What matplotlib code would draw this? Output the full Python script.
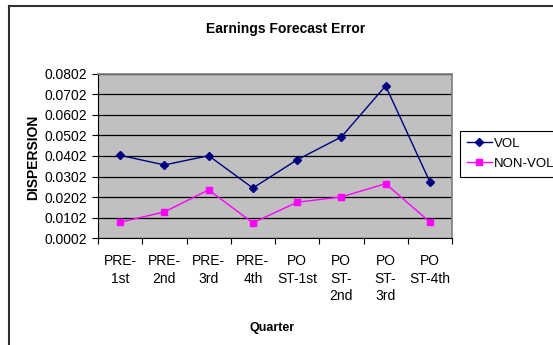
import numpy as np
import matplotlib
matplotlib.use('Agg')
import matplotlib.pyplot as plt
from matplotlib.lines import Line2D

plt.rcParams['font.family'] = ['Liberation Sans', 'DejaVu Sans']

quarters = ['PRE-\n1st', 'PRE-\n2nd', 'PRE-\n3rd', 'PRE-\n4th',
            'PO\nST-1st', 'PO\nST-\n2nd', 'PO\nST-\n3rd', 'PO\nST-4th']
vol = [0.0405, 0.0358, 0.0403, 0.0246, 0.0383, 0.0494, 0.0742, 0.0276]
non_vol = [0.0080, 0.0130, 0.0237, 0.0077, 0.0177, 0.0203, 0.0267, 0.0081]
yticks = [0.0002 + 0.01 * i for i in range(9)]

W, H = 553, 345
fig = plt.figure(figsize=(W / 100, H / 100), dpi=100)
ax = fig.add_axes([98 / W, 1 - 238.3 / H, 354 / W, 164.8 / H])
ax.set_facecolor('#C0C0C0')

x = np.arange(len(quarters))
ax.plot(x, vol, color='#000080', lw=1, marker='D', ms=4.5, label='VOL', zorder=3)
ax.plot(x, non_vol, color='#FF00FF', lw=1, marker='s', ms=5, label='NON-VOL', zorder=3)

ax.set_xlim(-0.5, len(quarters) - 0.5)
ax.set_ylim(yticks[0], yticks[-1])
ax.set_yticks(yticks)
ax.set_yticklabels(['%.4f' % v for v in yticks], fontsize=10)
ax.yaxis.grid(True, color='black', lw=0.9)
ax.set_axisbelow(True)

ax.set_xticks(np.arange(-0.5, len(quarters), 1.0))
ax.set_xticklabels([])
ax.set_xticks(x, minor=True)
ax.set_xticklabels(quarters, minor=True, fontsize=10, linespacing=1.3, va='top')
ax.tick_params(axis='x', which='minor', length=0, pad=11.5)
ax.tick_params(axis='both', which='major', length=4, width=0.8, direction='out')
ax.tick_params(axis='y', pad=4)

for s in ['top', 'right']:
    ax.spines[s].set_color('#808080')
    ax.spines[s].set_linewidth(1.2)
for s in ['left', 'bottom']:
    ax.spines[s].set_color('black')

fig.text(286 / W, 1 - 29 / H, 'Earnings Forecast Error', ha='center', va='center',
         fontsize=10, fontweight='bold')
fig.text(33 / W, 1 - 157 / H, 'DISPERSION', rotation=90, ha='center', va='center',
         fontsize=10, fontweight='bold')
fig.text(272 / W, 1 - 328 / H, 'Quarter', ha='center', va='center',
         fontsize=9, fontweight='bold')

leg = fig.legend(loc='upper left', bbox_to_anchor=(460 / W, 1 - 131 / H), fontsize=9.5,
                 frameon=True, fancybox=False, framealpha=1, edgecolor='black',
                 handlelength=1.9, handletextpad=0.15, borderpad=0.5, labelspacing=0.6,
                 borderaxespad=0)
leg.get_frame().set_linewidth(0.8)

# outer chart border (right and bottom edges fall outside the picture)
fig.add_artist(Line2D([9 / W, 9 / W], [0, 1 - 6 / H], color='#303030', lw=1.5))
fig.add_artist(Line2D([9 / W, 1], [1 - 6 / H, 1 - 6 / H], color='#303030', lw=1.5))

fig.savefig('out.png', dpi=100)
